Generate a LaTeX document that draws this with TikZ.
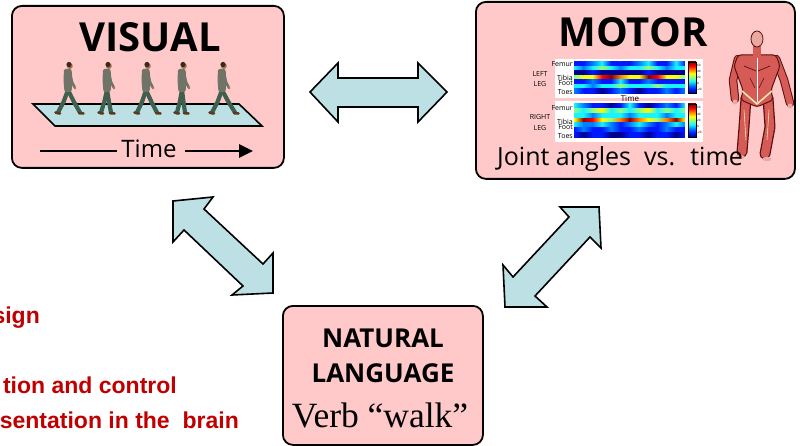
\documentclass[tikz,border=0pt]{standalone}
\usepackage{fontspec}
\usetikzlibrary{arrows.meta}
\newfontfamily\osans{Open Sans}
\newfontfamily\asans{Liberation Sans}
\newfontfamily\tserif{Liberation Serif}
\definecolor{boxpink}{HTML}{FFC9C9}
\definecolor{arrowblue}{HTML}{BCE0E3}
\definecolor{redtxt}{HTML}{C00000}
\definecolor{pants}{HTML}{3F5F4F}
\definecolor{shirt}{HTML}{707466}
\definecolor{shoecol}{HTML}{5A3A20}
\definecolor{skin}{HTML}{A07050}
\definecolor{hair}{HTML}{3A2A1A}
\definecolor{mred}{HTML}{D65A55}
\definecolor{mdark}{HTML}{5A1010}
\definecolor{mskin}{HTML}{E9A8A0}
\definecolor{mlight}{HTML}{F2E6B0}
\definecolor{jA}{rgb}{0,0,0.56}
\definecolor{jB}{rgb}{0,0.1,1}
\definecolor{jC}{rgb}{0,0.5,1}
\definecolor{jD}{rgb}{0.1,0.95,1}
\definecolor{jE}{rgb}{0.55,1,0.5}
\definecolor{jF}{rgb}{1,1,0}
\definecolor{jG}{rgb}{1,0.5,0}
\definecolor{jH}{rgb}{1,0,0}
\definecolor{jI}{rgb}{0.55,0,0}
\pgfdeclareverticalshading{jetbar}{100bp}{color(0bp)=(jA); color(25bp)=(jA); color(31.25bp)=(jB); color(37.5bp)=(jC); color(43.75bp)=(jD); color(50bp)=(jE); color(56.25bp)=(jF); color(62.5bp)=(jG); color(68.75bp)=(jH); color(75bp)=(jI); color(100bp)=(jI)}
\newcommand\hmrow[4]{%
  \foreach \c [count=\i, remember=\c as \p (initially jA)] in {#4}{%
    \ifnum\i>1\relax
      \shade[left color=\p, right color=\c] ({#1+(\i-2)*9.25},#2) rectangle ++(9.55,#3+0.3);
    \fi}}
\newcommand\walker[3]{%
  \begin{scope}[shift={(#1,114)}]
    \draw[legs] (0,-24) -- (-#3*0.45,-12) -- (-#3,-1.5);
    \draw[shoe] (-#3-2.5,-1.5) -- (-#3+2,-0.5);
    \draw[legs] (0,-24) -- (#2*0.5,-12) -- (#2,-1.5);
    \draw[shoe] (#2-1,-1) -- (#2+3.5,-0.5);
    \fill[shirt, rounded corners=1.5pt] (-4,-45) -- (3.5,-45) -- (4.5,-33) -- (3.5,-22) -- (-3.5,-22) -- (-4.5,-33) -- cycle;
    \draw[line width=2.6pt, draw=shirt, line cap=round] (1.5,-42) -- (4,-32) -- (6.5,-27);
    \fill[skin] (6.9,-26) circle (1.4pt);
    \fill[skin] (1.8,-48) circle (3pt);
    \fill[hair] (1,-49.5) circle (2.6pt);
  \end{scope}}
\begin{document}
\begin{tikzpicture}[x=1pt,y=-1pt,
  bx/.style={draw=black, line width=1.8pt, rounded corners=10pt, fill=boxpink, inner sep=0},
  barrow/.style={draw=black, line width=1.6pt, fill=arrowblue, line join=miter},
  legs/.style={line width=4.2pt, draw=pants, line cap=round, line join=round},
  shoe/.style={line width=2.6pt, draw=shoecol, line cap=round},
  mout/.style={draw=mdark, line cap=round, line join=round},
  min/.style={draw=mred, line cap=round, line join=round},
  lbl/.style={font=\osans\fontsize{7}{7}\selectfont, inner sep=0},
  tick/.style={font=\osans\fontsize{3}{3}\selectfont, inner sep=0, anchor=west},
  redt/.style={font=\asans\bfseries\fontsize{23}{23}\selectfont, text=redtxt, anchor=base east, inner sep=0}]
\useasboundingbox (0,0) rectangle (800,446);
\fill[white] (0,0) rectangle (800,446);

% ---------- boxes ----------
\node[bx, anchor=north west, minimum width=272pt, minimum height=162pt] (visual) at (11,5) {};
\node[bx, anchor=north west, minimum width=319pt, minimum height=177pt] (motor) at (475,1) {};
\node[bx, anchor=north west, minimum width=200pt, minimum height=139pt] (lang) at (282,305) {};

% ---------- VISUAL ----------
\node[font=\osans\bfseries\fontsize{40}{40}\selectfont, anchor=base, inner sep=0] (vtitle) at (150,52) {VISUAL};
\draw[line width=1.6pt, fill=arrowblue] (33,104) -- (239,104) -- (262,126) -- (55,126) -- cycle;
\walker{68}{12}{10}
\walker{107}{4}{6}
\walker{146}{11}{9}
\walker{182}{3}{5}
\walker{222}{13}{10}
\node[font=\osans\fontsize{24}{24}\selectfont, anchor=base, inner sep=0] (vtime) at (149,158) {Time};
\coordinate (ta) at (40,151);
\coordinate (tb) at (117,151);
\coordinate (tc) at (185,151);
\coordinate (td) at (253,151);
\draw[line width=1.3pt] (ta) -- (tb);
\draw[line width=2.6pt, -{Triangle[length=14pt,width=13pt]}] (tc) -- (td);

% ---------- MOTOR ----------
\node[font=\osans\bfseries\fontsize{40}{40}\selectfont, anchor=base, inner sep=0] (mtitle) at (633,47) {MOTOR};
\fill[white] (555,59) rectangle (703,98);
\fill[white] (555,101) rectangle (703,142);
% top heatmap
\hmrow{574}{62}{4.43}{jB,jB,jC,jD,jB,jB,jB,jC,jD,jB,jB,jD,jB}
\hmrow{574}{66.43}{4.43}{jD,jC,jD,jE,jD,jC,jD,jD,jE,jD,jC,jD,jD}
\hmrow{574}{70.86}{4.43}{jA,jA,jB,jA,jA,jA,jA,jA,jB,jA,jA,jA,jA}
\hmrow{574}{75.29}{4.43}{jE,jF,jF,jH,jI,jG,jF,jF,jI,jH,jF,jF,jE}
\hmrow{574}{79.71}{4.43}{jB,jB,jC,jB,jB,jD,jB,jB,jC,jB,jB,jB,jB}
\hmrow{574}{84.14}{4.43}{jD,jD,jC,jD,jD,jE,jD,jD,jD,jE,jD,jD,jD}
\hmrow{574}{88.57}{4.43}{jC,jB,jB,jA,jB,jC,jB,jA,jB,jB,jC,jB,jC}
\fill[white] (685,61) rectangle (688,94);
\shade[shading=jetbar] (688,62) rectangle (696,93);
\draw[line width=0.3pt] (688,62) rectangle (696,93);
\foreach \t/\yy in {60/65,40/71,20/77,0/83,-20/89}{\node[tick] at (697,\yy) {\t};}
% bottom heatmap
\hmrow{574}{104}{4.71}{jD,jC,jB,jB,jA,jB,jD,jB,jA,jB,jC,jB,jD}
\hmrow{574}{108.71}{4.71}{jE,jD,jE,jF,jD,jE,jD,jE,jF,jD,jE,jD,jE}
\hmrow{574}{113.43}{4.71}{jD,jD,jC,jD,jD,jD,jC,jD,jD,jD,jC,jD,jD}
\hmrow{574}{118.14}{4.71}{jF,jI,jH,jF,jE,jG,jI,jG,jF,jE,jG,jI,jF}
\hmrow{574}{122.86}{4.71}{jD,jC,jC,jD,jC,jB,jC,jD,jC,jB,jC,jD,jC}
\hmrow{574}{127.57}{4.71}{jB,jC,jB,jB,jC,jB,jB,jC,jB,jB,jC,jB,jB}
\hmrow{574}{132.29}{4.71}{jB,jA,jB,jB,jA,jA,jB,jB,jA,jB,jB,jA,jB}
\fill[white] (685,103) rectangle (688,138);
\shade[shading=jetbar] (688,104) rectangle (696,137);
\draw[line width=0.3pt] (688,104) rectangle (696,137);
\foreach \t/\yy in {60/107,40/114,20/120,0/126,-20/132}{\node[tick] at (697,\yy) {\t};}
% heatmap labels
\node[lbl, anchor=east] (lf1) at (573,64) {Femur};
\node[lbl, anchor=east] (lt1) at (573,77.5) {Tibia};
\node[lbl, anchor=east] (lo1) at (573,83.5) {Foot};
\node[lbl, anchor=east] (lx1) at (573,92) {Toes};
\node[lbl] (lleft) at (540,74) {LEFT};
\node[lbl] (lleg1) at (540,84) {LEG};
\node[lbl, font=\osans\fontsize{8}{8}\selectfont] (htime) at (630,99) {Time};
\node[lbl, anchor=east] (lf2) at (573,108) {Femur};
\node[lbl, anchor=east] (lt2) at (573,121.5) {Tibia};
\node[lbl, anchor=east] (lo2) at (573,127.5) {Foot};
\node[lbl, anchor=east] (lx2) at (573,136) {Toes};
\node[lbl] (lright) at (540,117) {RIGHT};
\node[lbl] (lleg2) at (540,128) {LEG};
% muscle man
\draw[mout, line width=8.5pt] (738,59) -- (733,80) -- (735,99);
\draw[min, line width=6.5pt] (738,59) -- (733,80) -- (735,99);
\draw[mout, line width=8.5pt] (776,59) -- (784,80) -- (790,103);
\draw[min, line width=6.5pt] (776,59) -- (784,80) -- (790,103);
\fill[mskin] (735,102) circle (2.5pt);
\fill[mskin] (790,106) circle (2.5pt);
\draw[mout, line width=11pt] (746,98) -- (744,127) -- (742,152);
\draw[min, line width=8.5pt] (746,98) -- (744,127) -- (742,152);
\draw[mout, line width=11pt] (768,98) -- (770,127) -- (765,154);
\draw[min, line width=8.5pt] (768,98) -- (770,127) -- (765,154);
\fill[mskin] (740,157) ellipse (4.5pt and 2.2pt);
\fill[mskin] (767,159) ellipse (4.5pt and 2.2pt);
\filldraw[fill=mred, draw=mdark, line width=1pt, rounded corners=3pt] (738,55) -- (776,55) -- (780,66) -- (771,90) -- (773,100) -- (757,107) -- (741,100) -- (743,90) -- (734,66) -- cycle;
\fill[mred] (753,46) rectangle (761,57);
\draw[white, line width=0.8pt] (757,58) -- (757,102);
\draw[mlight, line width=1.6pt] (742,91) -- (757,104) -- (772,91);
\draw[mdark, line width=0.7pt] (744,66) -- (756,71);
\draw[mdark, line width=0.7pt] (770,66) -- (758,71);
\draw[mdark, line width=0.6pt] (750,78) -- (755,88);
\draw[mdark, line width=0.6pt] (764,78) -- (759,88);
\draw[mlight, line width=0.6pt] (744,110) -- (746,140);
\draw[mlight, line width=0.6pt] (769,110) -- (767,140);
\filldraw[fill=mskin, draw=mdark, line width=0.8pt] (757,39) ellipse (6pt and 8pt);
\node[font=\osans\fontsize{25}{25}\selectfont, anchor=base, inner sep=0] (joint) at (620,166) {Joint angles~ vs.~ time};

% ---------- NATURAL LANGUAGE ----------
\node[font=\osans\bfseries\fontsize{26}{26}\selectfont, anchor=base, inner sep=0] (nat) at (383,347) {NATURAL};
\node[font=\osans\bfseries\fontsize{26}{26}\selectfont, anchor=base, inner sep=0] (langt) at (383,382) {LANGUAGE};
\node[font=\tserif\fontsize{35.5}{35.5}\selectfont, anchor=base, inner sep=0] (verb) at (380,427) {Verb “walk”};

% ---------- block arrows ----------
\draw[barrow] (310,92) -- (338,63) -- (338,78) -- (418,78) -- (418,63) -- (447,92) -- (418,122) -- (418,107) -- (338,107) -- (338,122) -- cycle;
\draw[barrow] (173,201) -- (213,197) -- (204,209) -- (263,264) -- (273,253) -- (273,293) -- (232,295) -- (243,286) -- (184,230) -- (173,242) -- cycle;
\draw[barrow] (599,207) -- (601,248) -- (590,237) -- (535,296) -- (547,307) -- (505,307) -- (503,265) -- (513,277) -- (569,217) -- (560,207) -- cycle;

% ---------- red text ----------
\node[redt] (r1) at (40,323) {sign};
\node[redt] (r2) at (177,393) {tion and control};
\node[redt] (r3) at (239,428) {sentation in the~ brain};
\end{tikzpicture}
\end{document}
